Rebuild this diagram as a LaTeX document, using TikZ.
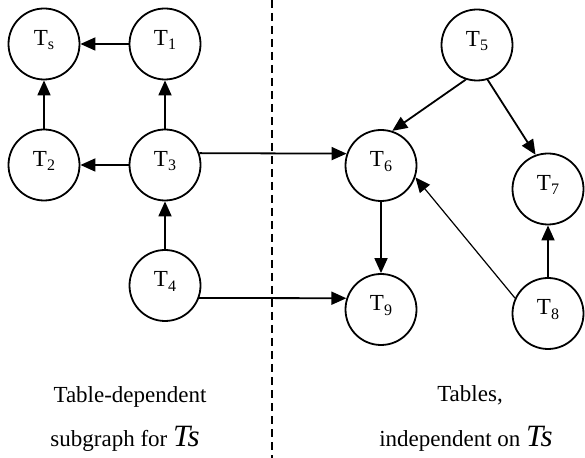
\documentclass[tikz,border=0pt]{standalone}
\usepackage{fontspec}
\setmainfont{Liberation Serif}
\usetikzlibrary{arrows.meta}

% table name with a lowered subscript
\newcommand{\tsub}[1]{T\raisebox{-4.5bp}{\fontsize{16bp}{16bp}\selectfont #1}}
\newcommand{\tsname}{{\itshape\fontsize{31bp}{31bp}\selectfont Ts}}

\begin{document}
\begin{tikzpicture}[x=1bp,y=1bp,
  tab/.style={circle,draw,line width=1.8bp,minimum size=71bp,inner sep=0pt,
    text height=3bp,text depth=0pt,font=\fontsize{23bp}{23bp}\selectfont},
  dep/.style={line width=1.8bp,-{Triangle[length=15bp,width=13bp]}},
  weakdep/.style={line width=1.2bp,-{Triangle[length=15bp,width=13bp]}},
  divider/.style={line width=1.4bp,dash pattern=on 8bp off 5bp},
  caption/.style={anchor=base,inner sep=0pt,font=\fontsize{23bp}{23bp}\selectfont},
]
\useasboundingbox (0,0) rectangle (585,458);

% dependent subgraph
\node[tab] (Ts) at (44,414)    {\tsub{s}};
\node[tab] (T1) at (165,414)   {\tsub{1}};
\node[tab] (T2) at (44,293)    {\tsub{2}};
\node[tab] (T3) at (165,293)   {\tsub{3}};
\node[tab] (T4) at (165,172.5) {\tsub{4}};

% independent tables
\node[tab] (T5) at (477,413)   {\tsub{5}};
\node[tab] (T6) at (381,292.5) {\tsub{6}};
\node[tab] (T7) at (548,269)   {\tsub{7}};
\node[tab] (T8) at (548,144.5) {\tsub{8}};
\node[tab] (T9) at (381,148.5) {\tsub{9}};

% dividing line
\coordinate (divtop) at (272,458);
\coordinate (divbot) at (272,0);
\draw[divider] (divtop) -- (divbot);

% dependencies
\draw[dep] (T1) -- (Ts);
\draw[dep] (T2) -- (Ts);
\draw[dep] (T3) -- (T1);
\draw[dep] (T3) -- (T2);
\draw[dep] (T4) -- (T3);
\draw[dep] (T3.19) -- (T6.161);
\draw[dep] (T4.-20) -- (T9.162);
\draw[dep] (T5.252) -- (T6.72);
\draw[dep] (T5.287) -- (T7.110);
\draw[dep] (T6) -- (T9);
\draw[dep] (T8) -- (T7);
\draw[weakdep] (T8.155) -- (T6.-19);

% captions
\node[caption] (capLa) at (130,55) {Table-dependent};
\node[caption] (capLb) at (125,11) {subgraph for \tsname};
\node[caption] (capRa) at (470,56) {Tables,};
\node[caption] (capRb) at (466,11) {independent on \tsname};
\end{tikzpicture}
\end{document}
